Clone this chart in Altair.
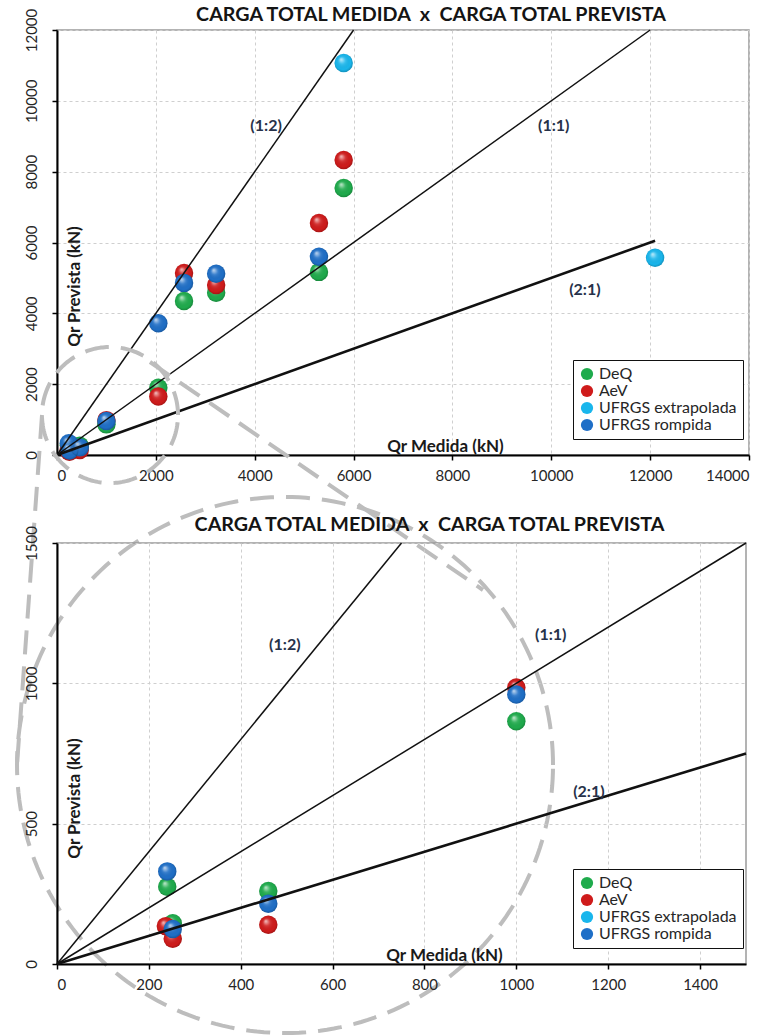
import altair as alt
import numpy as np
import pandas as pd

# ---- measured vs. predicted total load (kN) per method ----
series_names = ["DeQ", "AeV", "UFRGS extrapolada", "UFRGS rompida"]
series_colors = ["#1fab4c", "#cf1b1b", "#19b6ec", "#1f6fc7"]

med_deq = [240, 252, 460, 1000, 2050, 2570, 3220, 5300, 5800]
prev_deq = [275, 145, 260, 865, 1900, 4350, 4580, 5170, 7540]

med_aev = [237, 252, 460, 1000, 2050, 2570, 3220, 5300, 5800]
prev_aev = [135, 90, 140, 985, 1650, 5140, 4800, 6550, 8330]

med_ext = [5800, 12100]
prev_ext = [11070, 5570]

med_romp = [240, 252, 460, 1000, 2050, 2570, 3220, 5300]
prev_romp = [330, 125, 215, 960, 3720, 4860, 5120, 5600]

# reference ratio lines: label, slope, end of the line on x (one per panel)
ratio_labels = ["(1:2)", "(1:1)", "(2:1)"]
ratio_slopes = [2.0, 1.0, 0.5]
ratio_widths = [1.5, 1.5, 2.6]
ratio_end_top = [6000, 12000, 12100]
ratio_end_zoom = [750, 1500, 1500]

# label anchors of the ratio lines
lab_x_top = [4230, 10050, 10680]
lab_y_top = [9290, 9290, 4660]
lab_x_zoom = [496, 1075, 1158]
lab_y_zoom = [1137, 1172, 613]

# axis ticks
ticks_x_top = list(range(0, 14001, 2000))
ticks_y_top = list(range(0, 12001, 2000))
ticks_x_zoom = list(range(0, 1401, 200))
ticks_y_zoom = [0, 500, 1000, 1500]

TITLE = "CARGA TOTAL MEDIDA\u00a0 x \u00a0CARGA TOTAL PREVISTA"
FONT = "Lato"
TXT = "#262626"

rows = []
for name, xs, ys in zip(series_names,
                        [med_deq, med_aev, med_ext, med_romp],
                        [prev_deq, prev_aev, prev_ext, prev_romp]):
    for a, b in zip(xs, ys):
        rows.append({"serie": name, "med": a, "prev": b})
points = pd.DataFrame(rows)

# sphere shading laid over each flat disc
shine = {
    "gradient": "radial",
    "x1": 0.36, "y1": 0.3, "r1": 0.0,
    "x2": 0.5, "y2": 0.5, "r2": 0.55,
    "stops": [
        {"offset": 0.0, "color": "rgba(255,255,255,0.75)"},
        {"offset": 0.35, "color": "rgba(255,255,255,0.12)"},
        {"offset": 0.75, "color": "rgba(0,0,0,0.0)"},
        {"offset": 1.0, "color": "rgba(0,0,0,0.28)"},
    ],
}

color_scale = alt.Scale(domain=series_names, range=series_colors)


def make_legend(lx, ly):
    return alt.Legend(
        title=None, orient="none", legendX=lx, legendY=ly,
        symbolType="circle", symbolSize=150, symbolStrokeWidth=0,
        labelFont=FONT, labelFontSize=16, labelColor=TXT,
        rowPadding=1, padding=6, strokeColor="#111111",
        fillColor="white", labelLimit=200,
    )


def panel(xmax, ymax, xt, yt, w, h, ends, lab_x, lab_y, legend, ytitle_y,
          xtitle_x, title_dy, filt=None, extra=None):
    xs = alt.Scale(domain=[0, xmax], nice=False, zero=True)
    ys = alt.Scale(domain=[0, ymax], nice=False, zero=True)
    xaxis = alt.Axis(
        values=xt, format="d", labelPadding=8, grid=True,
        title="Qr Medida (kN)", titleX=xtitle_x, titleY=-9,
        titleAlign="center", titleBaseline="middle", titleAngle=0,
    )
    yaxis = alt.Axis(
        values=yt, format="d", grid=True, labelAngle=270,
        labelAlign="center", labelBaseline="bottom", labelPadding=13,
        title="Qr Prevista (kN)", titleX=17, titleY=ytitle_y,
        titleAngle=270, titleAlign="center", titleBaseline="middle",
    )
    base = alt.Chart(points)
    if filt is not None:
        base = base.transform_filter(filt)

    layers = []
    for name in series_names:
        sel = base.transform_filter(alt.datum.serie == name)
        enc = dict(
            x=alt.X("med:Q", scale=xs, axis=xaxis),
            y=alt.Y("prev:Q", scale=ys, axis=yaxis),
        )
        layers.append(
            sel.mark_circle(size=340, opacity=1).encode(
                color=alt.Color("serie:N", scale=color_scale, legend=legend),
                **enc,
            )
        )
        layers.append(sel.mark_circle(size=340, opacity=1, fill=shine).encode(**enc))

    # ratio lines y = k * x
    for lab, k, wdt, xe in zip(ratio_labels, ratio_slopes, ratio_widths, ends):
        seg = pd.DataFrame({"med": [0, xe], "prev": [0, xe * k]})
        layers.append(
            alt.Chart(seg).mark_line(color="#111111", strokeWidth=wdt).encode(
                x=alt.X("med:Q", scale=xs), y=alt.Y("prev:Q", scale=ys)
            )
        )

    labels = pd.DataFrame({"t": ratio_labels, "med": lab_x, "prev": lab_y})
    layers.append(
        alt.Chart(labels).mark_text(
            font=FONT, fontSize=16, fontWeight="bold", color="#27324a"
        ).encode(x=alt.X("med:Q", scale=xs), y=alt.Y("prev:Q", scale=ys), text="t:N")
    )

    if extra is not None:
        layers.append(extra(xs, ys))

    return alt.layer(*layers).properties(
        width=w, height=h,
        title=alt.TitleParams(
            TITLE, font=FONT, fontSize=19.7, fontWeight="bold", color="#141414",
            dx=28, dy=title_dy, offset=6,
        ),
    )


# dashed "zoom" callout, in the upper panel's units: a small ring round the
# origin, a large ring that encloses the lower panel and two connectors
t = np.linspace(0, 2 * np.pi, 241)
rings = []
for ring_id, (cx, cy, rx, ry) in enumerate([(1072, 1129, 1376, 1920),
                                             (4613, -8753, 5422, 7567)]):
    for i, a in enumerate(t):
        rings.append({"g": ring_id, "i": i,
                      "med": cx + rx * np.cos(a), "prev": cy + ry * np.sin(a)})
connectors = [
    {"g": 10, "i": 0, "med": -303, "prev": 1129},
    {"g": 10, "i": 1, "med": -809, "prev": -8753},
    {"g": 11, "i": 0, "med": 1881, "prev": 2626},
    {"g": 11, "i": 1, "med": 8618, "prev": -3812},
]
callout = pd.DataFrame(rings + connectors)


def callout_layer(xs, ys):
    return alt.Chart(callout).mark_line(
        color="#bdbdbd", strokeWidth=4, strokeDash=[24, 12], clip=False
    ).encode(
        x=alt.X("med:Q", scale=xs),
        y=alt.Y("prev:Q", scale=ys),
        detail="g:N",
        order="i:Q",
    )


top = panel(14000, 12000, ticks_x_top, ticks_y_top, 692, 425,
            ratio_end_top, lab_x_top, lab_y_top, make_legend(516, 330),
            256, 388, 22, extra=callout_layer)

zoom_filter = (alt.datum.med <= 1500) & (alt.datum.prev <= 1500)
bottom = panel(1500, 1500, ticks_x_zoom, ticks_y_zoom, 689, 421,
               ratio_end_zoom, lab_x_zoom, lab_y_zoom,
               make_legend(516, 326), 255, 387, 15, filt=zoom_filter)

chart = alt.vconcat(top, bottom, spacing=88, bounds="flush").resolve_scale(
    color="independent"
).resolve_legend(color="independent").properties(
    padding={"left": 8, "top": 3, "right": 5, "bottom": 0},
    background="white",
).configure_view(
    stroke="#9a9a9a", strokeWidth=1.5
).configure_axis(
    domainColor="#000000", domainWidth=2, tickColor="#000000", tickWidth=1.5,
    tickSize=5, gridColor="#cfcfcf", gridDash=[3, 3], gridWidth=1,
    labelFont=FONT, labelFontSize=15, labelColor=TXT,
    titleFont=FONT, titleFontSize=17, titleFontWeight="bold", titleColor="#1a1a1a",
)

chart.save("out.html", embed_options={"renderer": "svg", "actions": False})
